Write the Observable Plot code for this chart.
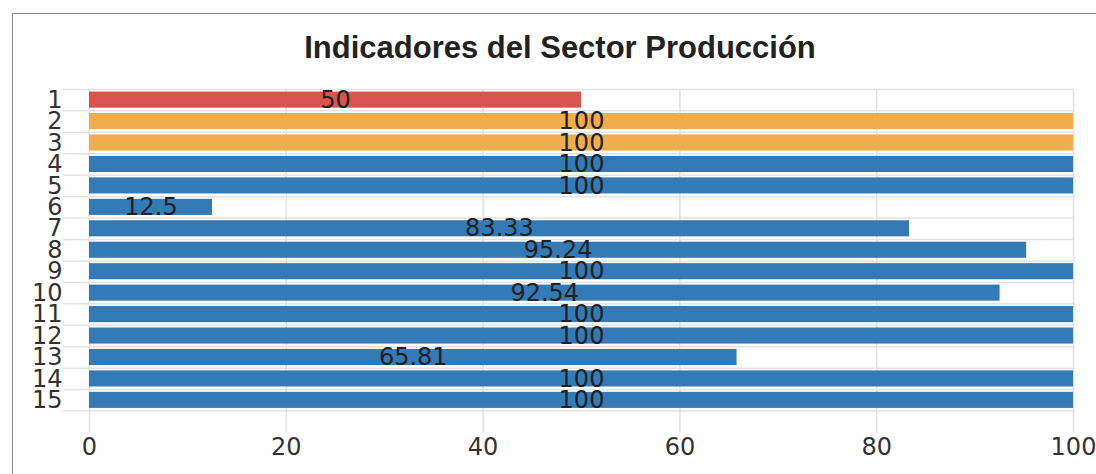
<!DOCTYPE html>
<html><head><meta charset="utf-8">
<script src="https://cdn.jsdelivr.net/npm/d3@7"></script>
<script src="https://cdn.jsdelivr.net/npm/@observablehq/plot@0.6"></script>
<style>
html,body{margin:0;padding:0;background:#fff;overflow:hidden;}
#frame{position:absolute;left:12px;top:13px;width:1096px;height:480px;border:1.5px solid #8a8a8a;box-sizing:border-box;}
#title{position:absolute;left:12px;top:30px;width:1096px;text-align:center;font:bold 31px "Liberation Sans",Arial,sans-serif;color:#222;line-height:normal;}
#chart{position:absolute;left:0;top:75px;}
</style></head>
<body>
<div id="frame"></div>
<div id="title">Indicadores del Sector Producción</div>
<div id="chart"></div>
<script>
const categories = ["1","2","3","4","5","6","7","8","9","10","11","12","13","14","15"];
const values = [50,100,100,100,100,12.5,83.33,95.24,100,92.54,100,100,65.81,100,100];
const colors = ["#d9534f","#f0ad4e","#f0ad4e","#337ab7","#337ab7","#337ab7","#337ab7","#337ab7","#337ab7","#337ab7","#337ab7","#337ab7","#337ab7","#337ab7","#337ab7"];
const xTicks = [0,20,40,60,80,100];

const data = categories.map((c,i)=>({cat:c, value:values[i], color:colors[i]}));
const W = 1096, H = 399, mt = 14, mb = 63.5;
const pInner = 0.25, pOuter = 0.12;
const step = (H - mt - mb) / (categories.length - pInner + 2*pOuter);
const font = '"DejaVu Sans",sans-serif';

const chart = Plot.plot({
  width: W, height: H,
  marginLeft: 89, marginRight: 23, marginTop: mt, marginBottom: mb,
  style: {fontFamily: font, background: "transparent"},
  x: {domain: [0,100], ticks: xTicks},
  y: {domain: categories, paddingInner: pInner, paddingOuter: pOuter, round: false},
  marks: [
    Plot.ruleX(xTicks, {stroke: "#e0e0e0", strokeWidth: 1.5, insetBottom: -22}),
    Plot.ruleY(categories, {y: d=>d, dy: -step/2, stroke: "#e3e3e3", strokeWidth: 1.5, insetLeft: -26}),
    Plot.ruleY([categories[categories.length-1]], {y: d=>d, dy: step/2, stroke: "#e3e3e3", strokeWidth: 1.5, insetLeft: -26}),
    Plot.barX(data, {y: "cat", x: "value", fill: "color"}),
    Plot.text(data, {y: "cat", x: d=>d.value/2, text: d=>String(d.value), fill: "#222", fontSize: 24}),
    Plot.axisY({tickSize: 0, tickPadding: 27, fontSize: 24, fill: "#333", label: null}),
    Plot.axisX({ticks: xTicks, tickSize: 0, tickPadding: 27, fontSize: 24, fill: "#333", label: null})
  ]
});
document.getElementById("chart").appendChild(chart);
</script>
</body></html>
